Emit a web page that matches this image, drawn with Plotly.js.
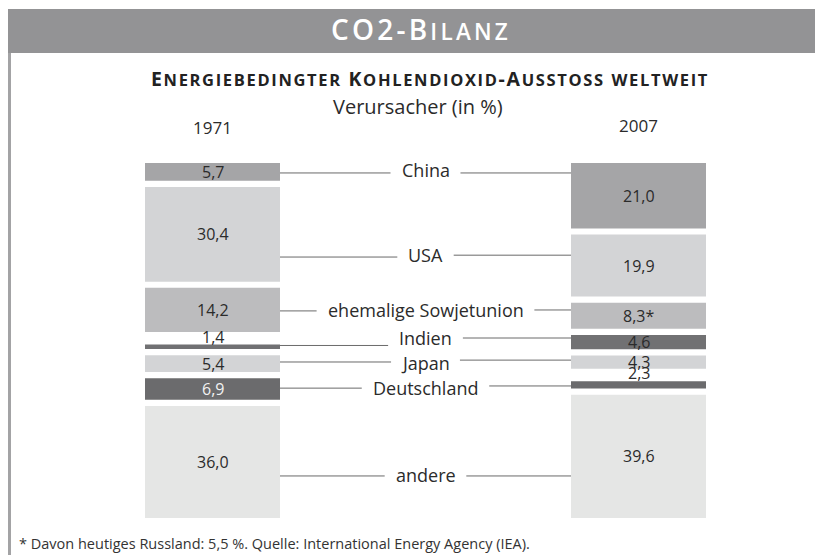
<!DOCTYPE html>
<html>
<head>
<meta charset="utf-8">
<script src="https://cdn.plot.ly/plotly-3.0.1.min.js"></script>
<style>
  html, body { margin: 0; padding: 0; background: #ffffff; }
  #chart { width: 815px; height: 555px; }
</style>
</head>
<body>
<div id="chart"></div>
<script>
// ---- data ----
const countries = ['China', 'USA', 'ehemalige Sowjetunion', 'Indien', 'Japan', 'Deutschland', 'andere'];
const years = ['1971', '2007'];
const share1971 = [5.7, 30.4, 14.2, 1.4, 5.4, 6.9, 36.0];
const share2007 = [21.0, 19.9, 8.3, 4.6, 4.3, 2.3, 39.6];
const notes2007 = ['', '', '*', '', '', '', ''];
const footnote = '* Davon heutiges Russland: 5,5 %. Quelle: International Energy Agency (IEA).';

// ---- styles / layout constants ----
const colors = ['#a5a5a7', '#d3d4d6', '#bcbcbe', '#717173', '#d3d4d6', '#6b6b6d', '#e5e6e5'];
const valueTextColors = ['#2b2b2b', '#2b2b2b', '#2b2b2b', '#2b2b2b', '#2b2b2b', '#f2f2f2', '#2b2b2b'];
// label and connector line positions on the value axis
const labelY = [2.6, 30.0, 47.4, 56.5, 64.5, 72.5, 100.5];
const lineYLeft = [3.2, 30.2, 47.5, 58.6, 63.9, 72.3, 100.5];
const lineYRight = [3.2, 29.6, 47.2, 56.2, 63.3, 71.6, 100.5];
const W = 815, H = 555;
const plotTop = 163, plotBottom = 518;
const gap = 2.0;
const labelRoom = 2.0;
const smallLimit = 3;
const yMax = 114;
const pxPerX = 426;
const x0px = 212.5;
const barW = 135 / pxPerX;
const FONT = "'Open Sans', 'Noto Sans', sans-serif";
const dark = '#2b2b2b';

function bases(vals) {
  const out = []; let acc = 0;
  vals.forEach((v, i) => {
    if (i > 0) acc += gap + (v < smallLimit ? labelRoom : 0);
    out.push(acc);
    acc += v;
  });
  return out;
}
const base1971 = bases(share1971);
const base2007 = bases(share2007);
const fmt = v => v.toFixed(1).replace('.', ',');

const traces = countries.map((c, i) => ({
  type: 'bar',
  name: c,
  x: [0, 1],
  y: [share1971[i], share2007[i]],
  base: [base1971[i], base2007[i]],
  width: [barW, barW],
  marker: { color: colors[i], line: { width: 0 } },
  hoverinfo: 'skip',
  showlegend: false
}));

const annotations = [];
[[share1971, base1971, null], [share2007, base2007, notes2007]].forEach((set, xi) => {
  const [vals, bs, nts] = set;
  vals.forEach((v, i) => {
    const txt = fmt(v) + (nts ? nts[i] : '');
    const small = v < smallLimit;
    annotations.push({
      x: xi, y: small ? bs[i] : bs[i] + v / 2, xref: 'x', yref: 'y',
      text: txt, showarrow: false,
      xanchor: 'center', yanchor: small ? 'bottom' : 'middle',
      yshift: small ? -5 : 0,
      font: { family: FONT, size: 16, color: small ? dark : valueTextColors[i] }
    });
  });
});

const LABEL_SIZE = 18;
const cv = document.createElement('canvas').getContext('2d');
cv.font = LABEL_SIZE + "px 'Open Sans'";
const shapes = [];
countries.forEach((c, i) => {
  annotations.push({
    x: 0.5, y: labelY[i], xref: 'x', yref: 'y', text: c, showarrow: false,
    xanchor: 'center', yanchor: 'middle', yshift: 1,
    font: { family: FONT, size: LABEL_SIZE, color: dark }
  });
  const half = (cv.measureText(c).width / 2 + 11) / pxPerX;
  shapes.push({ type: 'line', xref: 'x', yref: 'y', x0: barW / 2, x1: 0.5 - half,
    y0: lineYLeft[i], y1: lineYLeft[i], line: { color: '#6a6a6a', width: 1 } });
  shapes.push({ type: 'line', xref: 'x', yref: 'y', x0: 0.5 + half, x1: 1 - barW / 2,
    y0: lineYRight[i], y1: lineYRight[i], line: { color: '#6a6a6a', width: 1 } });
});

years.forEach((yr, i) => {
  annotations.push({
    x: i, xref: 'x', yref: 'paper', y: 1 - (i === 0 ? 128 : 125) / H,
    text: yr, showarrow: false, xanchor: 'center', yanchor: 'middle',
    font: { family: FONT, size: 17, color: dark }
  });
});

function smallCaps(str, bigSize, smallSize, spacing) {
  let out = '';
  for (const ch of str) {
    const isLower = ch !== ch.toUpperCase();
    const size = isLower ? smallSize : bigSize;
    out += '<span style="font-size:' + size + 'px;letter-spacing:' + spacing + 'px">' + ch.toUpperCase() + '</span>';
  }
  return out;
}

annotations.push({
  xref: 'paper', yref: 'paper', x: 430 / W, y: 1 - 78.5 / H,
  text: smallCaps('Energiebedingter Kohlendioxid-Ausstoss weltweit', 19.5, 16.5, 1.65),
  showarrow: false, xanchor: 'center', yanchor: 'middle',
  font: { family: FONT, size: 16.5, color: '#222222', weight: 700 }
});
annotations.push({
  xref: 'paper', yref: 'paper', x: 418 / W, y: 1 - 106 / H,
  text: 'Verursacher (in %)', showarrow: false, xanchor: 'center', yanchor: 'middle',
  font: { family: FONT, size: 20, color: dark }
});
annotations.push({
  xref: 'paper', yref: 'paper', x: 17 / W, y: 1 - 543 / H,
  text: footnote, showarrow: false, xanchor: 'left', yanchor: 'middle',
  font: { family: FONT, size: 14.5, color: '#333333' }
});

shapes.push({ type: 'rect', xref: 'paper', yref: 'paper', x0: 8 / W, x1: 1,
  y0: 1 - 53 / H, y1: 1 - 9 / H, fillcolor: '#939395', line: { width: 0 }, layer: 'below' });
shapes.push({ type: 'rect', xref: 'paper', yref: 'paper', x0: 8 / W, x1: 11 / W,
  y0: 0, y1: 1 - 53 / H, fillcolor: '#a3a3a5', line: { width: 0 }, layer: 'below' });

const layout = {
  width: W, height: H,
  margin: { l: 0, r: 0, t: 0, b: 0, pad: 0 },
  paper_bgcolor: '#ffffff', plot_bgcolor: 'rgba(0,0,0,0)',
  barmode: 'overlay',
  showlegend: false,
  title: {
    text: smallCaps('CO2-Bilanz', 28, 22.5, 3.2), x: 421 / W, xanchor: 'center', xref: 'paper',
    y: 1 - 31 / H, yanchor: 'middle', yref: 'container',
    font: { family: FONT, size: 26, color: '#ffffff', weight: 600 }
  },
  xaxis: {
    range: [-x0px / pxPerX, (W - x0px) / pxPerX], domain: [0, 1],
    showgrid: false, zeroline: false, showticklabels: false, showline: false, ticks: ''
  },
  yaxis: {
    range: [yMax, 0], domain: [1 - plotBottom / H, 1 - plotTop / H],
    showgrid: false, zeroline: false, showticklabels: false, showline: false, ticks: ''
  },
  annotations: annotations,
  shapes: shapes
};

Plotly.newPlot('chart', traces, layout, { staticPlot: true, displayModeBar: false });
</script>
</body>
</html>
